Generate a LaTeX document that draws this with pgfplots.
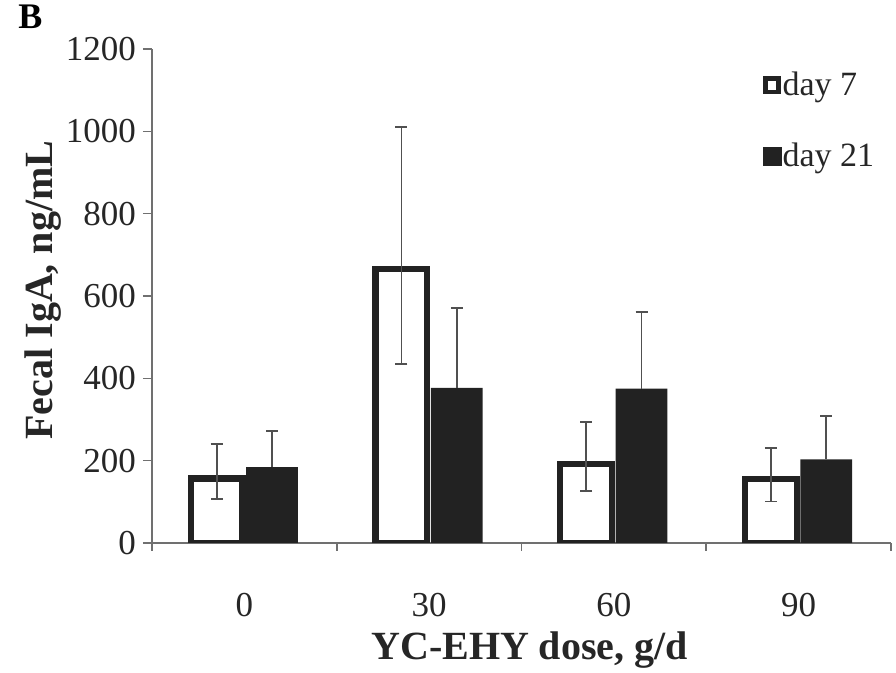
\documentclass[border=0pt]{standalone}
\usepackage{pgfplots}
\pgfplotsset{compat=1.18}
\usepackage{fontspec}
\setmainfont{Liberation Serif}
\definecolor{barblack}{HTML}{222222}
\definecolor{errgray}{HTML}{505050}
\definecolor{axgray}{HTML}{707070}
\begin{document}
\begin{tikzpicture}
\useasboundingbox (0,0) rectangle (448pt,336.5pt);
\node[anchor=base west, inner sep=0pt, font=\bfseries\fontsize{18}{18}\selectfont] at (9pt,322pt) {B};
\begin{axis}[
  at={(76pt,65pt)}, anchor=south west,
  scale only axis, width=369.5pt, height=247pt,
  xmin=-0.5, xmax=3.5,
  ymin=0, ymax=1200,
  ytick={0,200,...,1200},
  xtick={0,1,2,3},
  xticklabels={0,30,60,90},
  minor xtick={-0.5,0.5,1.5,2.5,3.5},
  major x tick style={draw=none},
  minor x tick style={draw=axgray, line width=0.8pt},
  y tick style={draw=axgray, line width=0.8pt},
  major tick length=4.5pt, minor tick length=4pt,
  tick align=outside,
  axis lines*=left,
  axis line style={draw=axgray, line width=0.8pt, -},
  /pgf/number format/assume math mode=true,
  /pgf/number format/1000 sep={},
  tick label style={font=\fontsize{17.5}{20}\selectfont, text=black!85},
  x tick label style={yshift=-17pt},
  xlabel={YC-EHY dose, g/d},
  ylabel={Fecal IgA, ng/mL},
  xlabel style={font=\bfseries\fontsize{20}{24}\selectfont, at={(axis description cs:0.511,-0.2165)}, anchor=center, text=black!85},
  ylabel style={font=\bfseries\fontsize{20}{24}\selectfont, at={(axis description cs:-0.1476,0.512)}, anchor=center, text=black!85},
  bar width=0.28,
  legend style={draw=none, fill=none, at={(rel axis cs:0.826,0.956)}, anchor=north west,
    font=\fontsize{17}{20}\selectfont, inner sep=0pt, row sep=21pt,
    nodes={inner sep=0.5pt, text=black!85}},
  legend cell align=left,
]
% day 7 (plotted at category - 0.15)
\addplot[ybar, bar shift=0pt, fill=white, draw=barblack, line width=3.2pt,
  error bars/.cd, y dir=both, y explicit,
  error bar style={draw=errgray, line width=0.9pt},
  error mark options={draw=errgray, line width=0.9pt, mark size=3pt, rotate=90},
  ]
  coordinates {
  (-0.15,157) += (0,83) -= (0,51)
  (0.85,665) += (0,345) -= (0,230)
  (1.85,192) += (0,101) -= (0,65)
  (2.85,155) += (0,75) -= (0,54)
  };
% day 21 (plotted at category + 0.15)
\addplot[ybar, bar shift=0pt, fill=barblack, draw=none,
  error bars/.cd, y dir=plus, y explicit,
  error bar style={draw=errgray, line width=0.9pt},
  error mark options={draw=errgray, line width=0.9pt, mark size=3pt, rotate=90},
  ]
  coordinates {
  (0.15,184) += (0,89) -= (0,0)
  (1.15,377) += (0,194) -= (0,0)
  (2.15,375) += (0,186) -= (0,0)
  (3.15,203) += (0,105) -= (0,0)
  };
\addlegendimage{legend image code/.code={\draw[draw=barblack, line width=2.4pt] (1.2pt,-3.3pt) rectangle (7.8pt,3.3pt);}}
\addlegendimage{legend image code/.code={\fill[barblack] (0pt,-4.5pt) rectangle (9pt,4.5pt);}}
\legend{,,day 7,day 21}
\end{axis}
\end{tikzpicture}
\end{document}
